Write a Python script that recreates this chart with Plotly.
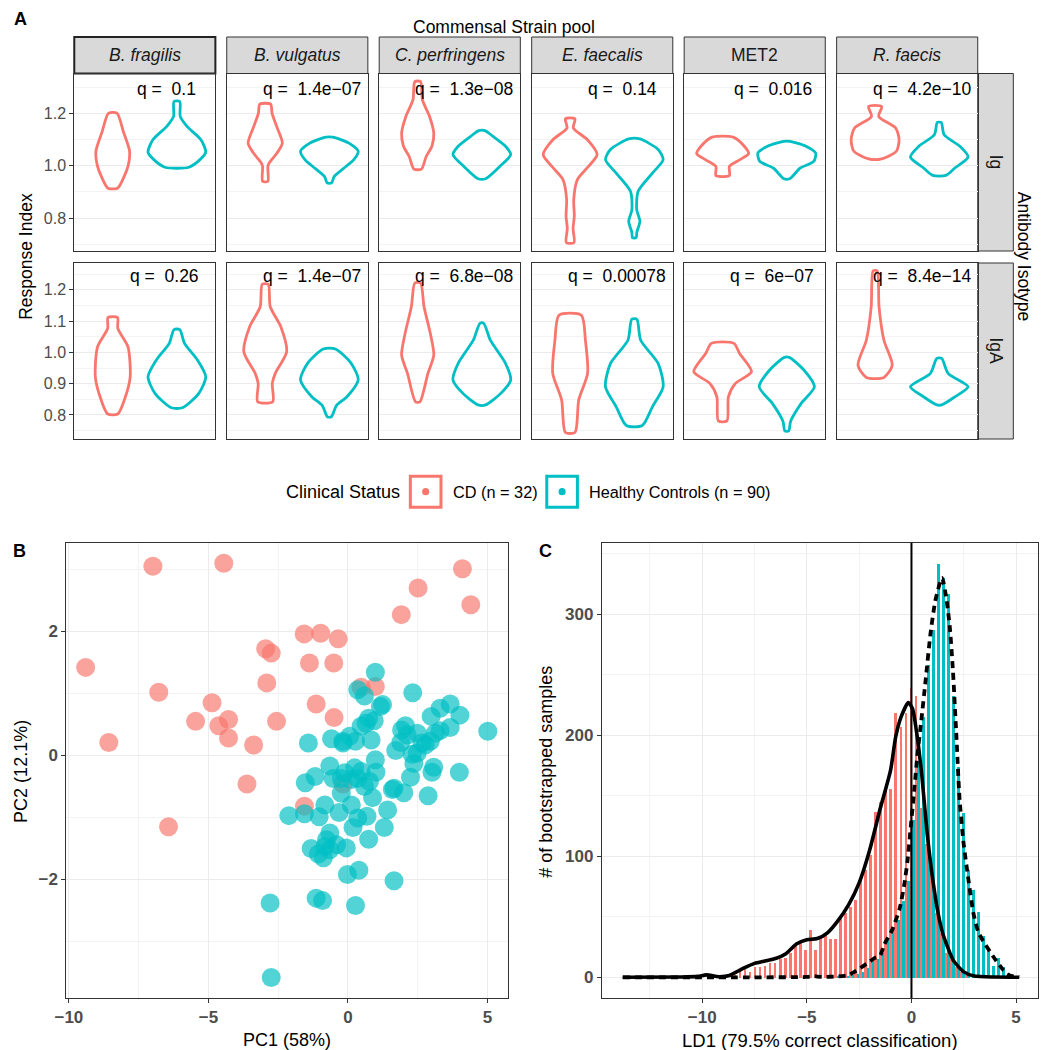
import plotly.graph_objects as go

W, H = 1041, 1050
CD_COLOR = "#F8766D"
HC_COLOR = "#00BFC4"
FONT = "Liberation Sans, Arial, Helvetica, sans-serif"

# ---------------- data ----------------
strains = ["B. fragilis", "B. vulgatus", "C. perfringens", "E. faecalis", "MET2", "R. faecis"]
strain_italic = [True, True, True, True, False, True]
isotypes = ["Ig", "IgA"]
group_labels = ["CD (n = 32)", "Healthy Controls (n = 90)"]

q_Ig = ["0.1", "1.4e\u221207", "1.3e\u221208", "0.14", "0.016", "4.2e\u221210"]
q_IgA = ["0.26", "1.4e\u221207", "6.8e\u221208", "0.00078", "6e\u221207", "8.4e\u221214"]

# violin profiles (Response Index levels, top to bottom, and relative density width)
vio_Ig_CD_y = [
    [1.200, 1.130, 1.055, 1.000, 0.960, 0.914],
    [1.235, 1.200, 1.150, 1.086, 1.048, 1.010, 0.997, 0.940],
    [1.321, 1.251, 1.188, 1.124, 1.074, 1.035, 0.987],
    [1.179, 1.144, 1.099, 1.042, 0.997, 0.947, 0.870, 0.807, 0.760, 0.706],
    [1.109, 1.074, 1.046, 1.023, 0.997, 0.962],
    [1.226, 1.188, 1.144, 1.099, 1.055, 1.026],
]
vio_Ig_CD_w = [
    [4.5, 11, 17.5, 16, 12, 5],
    [5.5, 7, 11.7, 17.5, 12, 4, 2.7, 2.7],
    [3, 5, 12.5, 17, 15, 9, 4],
    [5, 3.3, 18, 28, 19, 7.5, 3.7, 4.3, 3, 4],
    [11, 22.5, 27, 18, 7, 7],
    [6.7, 3.7, 21, 24.5, 21.7, 6.7],
]
vio_Ig_HC_y = [
    [1.245, 1.188, 1.150, 1.099, 1.051, 1.023, 0.994],
    [1.109, 1.086, 1.055, 1.023, 0.991, 0.959, 0.934],
    [1.134, 1.112, 1.074, 1.042, 0.997, 0.950],
    [1.102, 1.061, 1.023, 0.972, 0.902, 0.832, 0.788, 0.744, 0.725],
    [1.093, 1.074, 1.048, 1.016, 0.991, 0.950],
    [1.165, 1.118, 1.074, 1.033, 0.991, 0.963],
]
vio_Ig_HC_w = [
    [3, 3.5, 10.5, 25, 30, 24, 12.5],
    [3.3, 20, 29.5, 25, 15, 5, 2.3],
    [3.3, 11.7, 25, 30.5, 19, 4],
    [5.8, 25, 30, 19, 4, 2.5, 5.8, 2.5, 2],
    [3.3, 20, 30, 28, 14, 3],
    [2, 5, 21, 29.5, 16, 6.7],
]
vio_IgA_CD_y = [
    [1.112, 1.077, 1.018, 0.922, 0.858, 0.803],
    [1.218, 1.146, 1.082, 1.002, 0.933, 0.901, 0.842],
    [1.222, 1.146, 1.061, 0.991, 0.933, 0.842],
    [1.119, 1.039, 0.933, 0.848, 0.744],
    [1.029, 0.997, 0.938, 0.901, 0.858, 0.781],
    [1.261, 1.146, 1.039, 0.959, 0.920],
]
vio_IgA_CD_w = [
    [5, 5.3, 16, 18.3, 13.3, 5.3],
    [3, 5, 15.5, 21.3, 10, 7, 7.5],
    [3, 6.7, 13.3, 17, 10.8, 2.3],
    [11.7, 16, 18.3, 9, 5],
    [11.7, 17.5, 30, 13.3, 6, 4.5],
    [2, 4, 9, 17.5, 9],
]
vio_IgA_HC_y = [
    [1.073, 1.029, 0.975, 0.922, 0.869, 0.823],
    [1.011, 0.965, 0.912, 0.858, 0.830, 0.794],
    [1.093, 1.039, 0.965, 0.912, 0.869, 0.832],
    [1.106, 1.039, 0.965, 0.890, 0.826, 0.766],
    [0.984, 0.943, 0.890, 0.837, 0.780, 0.749],
    [0.981, 0.933, 0.890, 0.858, 0.832],
]
vio_IgA_HC_w = [
    [3, 8, 21.7, 30.3, 23, 5.8],
    [6, 21.7, 28.7, 17.5, 7, 2],
    [2, 9, 25, 30.5, 20, 4],
    [2.7, 6.7, 25, 30.3, 19, 8.3],
    [2.5, 18, 28.7, 15, 4, 2],
    [2.5, 9, 29.5, 16, 2.5],
]

# PCA scores
CD_pc1 = [-6.99, -4.45, 4.10, 2.51, 4.40, 1.91, -1.57, -0.98, -0.35, -2.95, -2.75, -1.38, -0.51, -9.40,
          -2.91, 0.47, 0.98, -6.78, -4.87, -1.14, -0.50, -5.46, -4.63, -4.28, -2.56, -4.28, -8.57, -3.38,
          -3.62, -0.18, -1.56, -6.43]
CD_pc2 = [3.05, 3.10, 3.01, 2.70, 2.43, 2.27, 1.96, 1.97, 1.88, 1.72, 1.65, 1.49, 1.49, 1.42,
          1.17, 1.10, 1.11, 1.02, 0.85, 0.83, 0.61, 0.55, 0.48, 0.58, 0.55, 0.28, 0.21, 0.17,
          -0.46, -0.46, -0.82, -1.15]
HC_pc1 = [0.98, 0.35, 0.59, 2.32, 1.24, 1.16, 3.66, 3.30, 4.01, 2.98,
          0.74, 0.94, 0.47, 0.65, 2.06, 1.92, 2.48, 3.66, 3.30, 3.13,
          5.01, -0.59, 0.06, 0.27, 0.83, -0.18, -1.42, 2.95, 2.65, 1.89,
          1.71, 2.48, 2.36, 0.98, -0.65, 0.24, 1.00, 0.47, -0.12, -1.18,
          -1.53, -0.53, 0.12, 3.07, 3.01, 3.99, 2.24, 0.77, 0.59, 0.88,
          1.65, 1.59, 2.00, 2.87, -0.24, -0.83, 0.12, -0.32, -2.12, -1.56,
          -1.03, 0.35, 0.68, 1.42, 0.18, 1.30, 0.74, -0.65, -0.77, -0.06,
          -0.41, -1.32, -1.06, -0.88, -0.65, -0.02, 0.39, 1.65, -1.14, -0.91,
          -2.79, 0.27, -2.75, -0.18, 2.12, 2.77, 2.30, -0.24, 0.35, -0.83]
HC_pc2 = [1.34, 1.06, 0.96, 1.01, 0.82, 0.79, 0.83, 0.76, 0.65, 0.63,
          0.60, 0.56, 0.47, 0.52, 0.48, 0.41, 0.36, 0.45, 0.40, 0.36,
          0.39, 0.27, 0.31, 0.23, 0.25, 0.20, 0.20, 0.23, 0.20, 0.21,
          0.08, 0.04, -0.13, -0.07, -0.17, -0.20, -0.27, -0.26, -0.28, -0.34,
          -0.44, -0.37, -0.39, -0.19, -0.27, -0.27, -0.35, -0.42, -0.50, -0.68,
          -0.53, -0.55, -0.60, -0.65, -0.61, -0.80, -0.80, -0.92, -0.97, -0.94,
          -0.99, -1.01, -0.98, -0.88, -1.16, -1.16, -1.35, -1.25, -1.36, -1.49,
          -1.44, -1.50, -1.59, -1.65, -1.52, -1.92, -1.85, -2.02, -2.30, -2.34,
          -2.38, -2.42, -3.58, 0.23, 0.33, 0.17, 0.02, -0.37, -0.37, -1.47]

# LDA bootstrap histogram (bin centres, counts per group)
bin_centers = [-8.38, -8.14, -7.90, -7.66, -7.42, -7.18, -6.94, -6.70, -6.46, -6.22,
               -5.98, -5.74, -5.50, -5.26, -5.02, -4.78, -4.54, -4.30, -4.06, -3.82,
               -3.58, -3.34, -3.10, -2.86, -2.62, -2.38, -2.14, -1.90, -1.66, -1.42,
               -1.18, -0.94, -0.70, -0.46, -0.22, 0.02, 0.26, 0.50, 0.74, 0.98,
               1.22, 1.46, 1.70, 1.94, 2.18, 2.42, 2.66, 2.90, 3.14, 3.38,
               3.62, 3.86, 4.10, 4.34, 4.58, 4.82]
CD_counts = [2, 6, 9, 5, 9, 9, 10, 12, 12, 15,
             16, 20, 28, 30, 23, 39, 23, 33, 36, 32,
             32, 49, 53, 58, 64, 81, 89, 101, 137, 145,
             155, 156, 219, 207, 219, 239, 233, 140, 110, 86,
             53, 37, 20, 15, 9, 5, 2, 0, 0, 0,
             0, 0, 0, 0, 0, 0]
HC_counts = [0, 0, 0, 0, 0, 0, 0, 0, 0, 0,
             0, 0, 0, 0, 0, 0, 0, 0, 0, 0,
             1, 0, 1, 2, 3, 5, 8, 14, 15, 20,
             32, 40, 48, 63, 80, 130, 178, 215, 258, 287,
             342, 330, 317, 233, 174, 136, 89, 72, 54, 34,
             23, 10, 16, 9, 4, 1]

# density curves (scaled to counts)
CD_dens_x = [-13.8, -11.0, -10.2, -9.8, -9.2, -8.7, -8.3, -8.0, -7.5, -7.0, -6.5, -6.0, -5.5, -5.0,
             -4.5, -4.0, -3.5, -3.0, -2.5, -2.0, -1.5, -1.0, -0.75, -0.5, -0.15, 0.05, 0.25, 0.5,
             0.75, 1.0, 1.25, 1.5, 2.0, 2.5, 3.0, 4.0, 5.15]
CD_dens_y = [0, 0.3, 0.8, 2, 0.5, 1.5, 5, 7.7, 11.5, 13.5, 15.5, 19.5, 27.5, 31,
             32, 37, 47, 60, 78, 105, 139, 171, 199, 215, 227, 222, 202, 166,
             119, 83, 55, 36, 14, 4.5, 1, 0.2, 0]
HC_dens_x = [-13.8, -8.0, -5.0, -4.7, -4.3, -3.5, -3.0, -2.5, -2.0, -1.75, -1.5, -1.3, -0.9, -0.55,
             -0.35, -0.19, -0.03, 0.15, 0.28, 0.47, 0.68, 0.91, 1.15, 1.46, 1.65, 1.83, 1.98, 2.14,
             2.30, 2.49, 2.72, 2.96, 3.2, 3.5, 3.89, 4.37, 4.69, 5.15]
HC_dens_y = [0, 0, 0.3, 1, 0.3, 0.8, 2, 7, 13, 16, 18, 27, 40, 58,
             76, 96, 125, 158, 183, 212, 246, 284, 312, 330, 315, 290, 254, 202,
             147, 111, 81, 53, 37, 28, 17.6, 6.4, 1.5, 0.3]

# ---------------- layout geometry (pixels) ----------------
def fx(px):
    return px / W


def fy(py):
    return 1 - py / H


A_LEFT = [63, 217.25, 371.5, 525.75, 680, 834.25]
A_W = 142.75
A_ROWS = [(73.5, 251), (263, 439)]
STRIP_TOP = 37
RSTRIP = (977, 1013)
B_BOX = (55, 501.7, 542.7, 998)
C_BOX = (596.7, 1038, 542.7, 998)

row_ranges = [[0.674, 1.352], [0.723, 1.286]]
row_ticks = [[0.8, 1.0, 1.2], [0.8, 0.9, 1.0, 1.1, 1.2]]
row_ticktext = [["0.8", "1.0", "1.2"], ["0.8", "0.9", "1.0", "1.1", "1.2"]]
row_minor = [[0.7, 0.9, 1.1, 1.3], [0.75, 0.85, 0.95, 1.05, 1.15, 1.25]]

GRID = "#EBEBEB"
MINOR = "#F3F3F3"
BORDER = "#333333"
TICKC = "#4D4D4D"

fig = go.Figure()
lay = {}
shapes = []
annotations = []

CHAR_EM = {"q": 0.556, " ": 0.278, "\u00a0": 0.278, "=": 0.584, ".": 0.278, "e": 0.556, "\u2212": 0.584}


def text_width(s, size):
    return sum(CHAR_EM.get(ch, 0.556) for ch in s) * size


def ax(n, kind):
    return f"{kind}axis" if n == 1 else f"{kind}axis{n}"


def ref(n, kind):
    return kind if n == 1 else f"{kind}{n}"


violin_sets = [
    (vio_Ig_CD_y, vio_Ig_CD_w, vio_Ig_HC_y, vio_Ig_HC_w),
    (vio_IgA_CD_y, vio_IgA_CD_w, vio_IgA_HC_y, vio_IgA_HC_w),
]
q_rows = [q_Ig, q_IgA]

Q_SIZE = 17.5
for r in range(2):
    top, bot = A_ROWS[r]
    cd_y, cd_w, hc_y, hc_w = violin_sets[r]
    for c in range(6):
        n = r * 6 + c + 1
        left = A_LEFT[c]
        lay[ax(n, "x")] = dict(
            domain=[fx(left), fx(left + A_W)], range=[0.4, 2.6], anchor=ref(n, "y"),
            showgrid=False, zeroline=False, showticklabels=False, ticks="",
            showline=True, mirror=True, linecolor=BORDER, linewidth=1, fixedrange=True,
        )
        lay[ax(n, "y")] = dict(
            domain=[fy(bot), fy(top)], range=row_ranges[r], anchor=ref(n, "x"),
            tickmode="array", tickvals=row_ticks[r], ticktext=row_ticktext[r],
            showticklabels=(c == 0), ticks="outside" if c == 0 else "", ticklen=4,
            tickcolor=BORDER, tickfont=dict(family=FONT, size=16, color=TICKC),
            showgrid=True, gridcolor=GRID, gridwidth=1,
            minor=dict(tickvals=row_minor[r], showgrid=True, gridcolor=MINOR, gridwidth=0.7),
            zeroline=False, showline=True, mirror=True, linecolor=BORDER, linewidth=1,
            fixedrange=True,
        )
        wmax = max(max(cd_w[c]), max(hc_w[c]))
        for center, ys, ws, col in [(1, cd_y[c], cd_w[c], CD_COLOR), (2, hc_y[c], hc_w[c], HC_COLOR)]:
            half = [0.45 * w / wmax for w in ws]
            xs = [center - half[0]] + [center + h for h in half] + [center - h for h in reversed(half)]
            yy = [ys[0]] + list(ys) + list(reversed(ys))
            fig.add_trace(go.Scatter(
                x=xs, y=yy, mode="lines", xaxis=ref(n, "x"), yaxis=ref(n, "y"),
                line=dict(color=col, width=2.8, shape="spline", smoothing=0.7),
                hoverinfo="skip", showlegend=False,
            ))
        # q-value label
        qtxt = "q =\u00a0 " + q_rows[r][c]
        wpx = text_width(qtxt, Q_SIZE)
        start = 100.8 - 0.674 * wpx
        annotations.append(dict(
            text=qtxt, xref=f"{ref(n, 'x')} domain", yref=f"{ref(n, 'y')} domain",
            x=start / A_W, y=1, xanchor="left", yanchor="top", yshift=-3 if r == 0 else -1,
            showarrow=False, font=dict(family=FONT, size=Q_SIZE, color="#000000"),
        ))

# top strips
for c in range(6):
    left = A_LEFT[c]
    thick = (c == 0)
    shapes.append(dict(
        type="rect", xref="paper", yref="paper",
        x0=fx(left), x1=fx(left + A_W), y0=fy(A_ROWS[0][0]), y1=fy(STRIP_TOP),
        fillcolor="#D9D9D9", line=dict(color="#222222" if thick else BORDER, width=2 if thick else 1),
        layer="below",
    ))
    label = f"<i>{strains[c]}</i>" if strain_italic[c] else strains[c]
    annotations.append(dict(
        text=label, xref="paper", yref="paper", x=fx(left + A_W / 2), y=fy((STRIP_TOP + A_ROWS[0][0]) / 2),
        xanchor="center", yanchor="middle", showarrow=False,
        font=dict(family=FONT, size=17.5, color="#1A1A1A"),
    ))

# right strips
for r in range(2):
    top, bot = A_ROWS[r]
    shapes.append(dict(
        type="rect", xref="paper", yref="paper",
        x0=fx(RSTRIP[0]), x1=fx(RSTRIP[1]), y0=fy(bot), y1=fy(top),
        fillcolor="#D9D9D9", line=dict(color=BORDER, width=1), layer="below",
    ))
    annotations.append(dict(
        text=isotypes[r], xref="paper", yref="paper", x=fx((RSTRIP[0] + RSTRIP[1]) / 2),
        y=fy((top + bot) / 2), xanchor="center", yanchor="middle", textangle=90, showarrow=False,
        font=dict(family=FONT, size=17.5, color="#1A1A1A"),
    ))

# facet titles and axis title of panel A
annotations += [
    dict(text="Commensal Strain pool", xref="paper", yref="paper", x=fx(498), y=fy(26.5),
         xanchor="center", yanchor="middle", showarrow=False, font=dict(family=FONT, size=17.5, color="#000")),
    dict(text="Antibody Isotype", xref="paper", yref="paper", x=fx(1024), y=fy(256),
         xanchor="center", yanchor="middle", textangle=90, showarrow=False,
         font=dict(family=FONT, size=17.5, color="#000")),
    dict(text="Response Index", xref="paper", yref="paper", x=fx(14), y=fy(256),
         xanchor="center", yanchor="middle", textangle=-90, showarrow=False,
         font=dict(family=FONT, size=17.5, color="#000")),
]

# ---------------- legend (ggplot style keys) ----------------
LEG_Y = 491.7
annotations.append(dict(text="Clinical Status", xref="paper", yref="paper", x=fx(275), y=fy(LEG_Y),
                        xanchor="left", yanchor="middle", showarrow=False,
                        font=dict(family=FONT, size=18, color="#000")))
for (kx0, kx1, tx, col, lab) in [(403, 434, 444, CD_COLOR, group_labels[0]),
                                  (541, 572, 582, HC_COLOR, group_labels[1])]:
    shapes.append(dict(type="rect", xref="paper", yref="paper", x0=fx(kx0), x1=fx(kx1),
                       y0=fy(LEG_Y + 15.5), y1=fy(LEG_Y - 15.5), fillcolor="white",
                       line=dict(color=col, width=3)))
    cx = (kx0 + kx1) / 2
    shapes.append(dict(type="circle", xref="paper", yref="paper", x0=fx(cx - 3.6), x1=fx(cx + 3.6),
                       y0=fy(LEG_Y + 3.6), y1=fy(LEG_Y - 3.6), fillcolor=col, line=dict(width=0)))
    annotations.append(dict(text=lab, xref="paper", yref="paper", x=fx(tx), y=fy(LEG_Y),
                            xanchor="left", yanchor="middle", showarrow=False,
                            font=dict(family=FONT, size=16.3, color="#000")))

# ---------------- panel B (PCA) ----------------
bold_tick = dict(family=FONT, size=17, color=TICKC, weight="bold")
lay["xaxis13"] = dict(
    domain=[fx(B_BOX[0]), fx(B_BOX[1])], range=[-10.09, 5.73], anchor="y13",
    tickmode="array", tickvals=[-10, -5, 0, 5], ticks="outside", ticklen=4, tickcolor=BORDER,
    tickfont=bold_tick, showgrid=True, gridcolor=GRID, gridwidth=1,
    minor=dict(tickvals=[-7.5, -2.5, 2.5], showgrid=True, gridcolor=MINOR, gridwidth=0.7),
    zeroline=False, showline=True, mirror=True, linecolor=BORDER, linewidth=1, fixedrange=True,
)
lay["yaxis13"] = dict(
    domain=[fy(B_BOX[3]), fy(B_BOX[2])], range=[-3.91, 3.43], anchor="x13",
    tickmode="array", tickvals=[-2, 0, 2], ticks="outside", ticklen=4, tickcolor=BORDER,
    tickfont=bold_tick, showgrid=True, gridcolor=GRID, gridwidth=1,
    minor=dict(tickvals=[-3, -1, 1, 3], showgrid=True, gridcolor=MINOR, gridwidth=0.7),
    zeroline=False, showline=True, mirror=True, linecolor=BORDER, linewidth=1, fixedrange=True,
)
fig.add_trace(go.Scatter(x=CD_pc1, y=CD_pc2, mode="markers", xaxis="x13", yaxis="y13",
                         marker=dict(size=19, color=CD_COLOR, opacity=0.68, line=dict(width=0)),
                         name=group_labels[0], hoverinfo="skip"))
fig.add_trace(go.Scatter(x=HC_pc1, y=HC_pc2, mode="markers", xaxis="x13", yaxis="y13",
                         marker=dict(size=19, color=HC_COLOR, opacity=0.68, line=dict(width=0)),
                         name=group_labels[1], hoverinfo="skip"))

# ---------------- panel C (LDA bootstrap) ----------------
lay["xaxis14"] = dict(
    domain=[fx(C_BOX[0]), fx(C_BOX[1])], range=[-14.8, 6.05], anchor="y14",
    tickmode="array", tickvals=[-10, -5, 0, 5], ticks="outside", ticklen=4, tickcolor=BORDER,
    tickfont=bold_tick, showgrid=True, gridcolor=GRID, gridwidth=1,
    minor=dict(tickvals=[-12.5, -7.5, -2.5, 2.5], showgrid=True, gridcolor=MINOR, gridwidth=0.7),
    zeroline=False, showline=True, mirror=True, linecolor=BORDER, linewidth=1, fixedrange=True,
)
lay["yaxis14"] = dict(
    domain=[fy(C_BOX[3]), fy(C_BOX[2])], range=[-17.1, 359.1], anchor="x14",
    tickmode="array", tickvals=[0, 100, 200, 300], ticks="outside", ticklen=4, tickcolor=BORDER,
    tickfont=bold_tick, showgrid=True, gridcolor=GRID, gridwidth=1,
    minor=dict(tickvals=[50, 150, 250, 350], showgrid=True, gridcolor=MINOR, gridwidth=0.7),
    zeroline=False, showline=True, mirror=True, linecolor=BORDER, linewidth=1, fixedrange=True,
)
fig.add_trace(go.Bar(x=bin_centers, y=CD_counts, xaxis="x14", yaxis="y14", marker=dict(color=CD_COLOR, line=dict(width=0)),
                     name=group_labels[0], hoverinfo="skip"))
fig.add_trace(go.Bar(x=bin_centers, y=HC_counts, xaxis="x14", yaxis="y14", marker=dict(color=HC_COLOR, line=dict(width=0)),
                     name=group_labels[1], hoverinfo="skip"))
shapes.append(dict(type="line", xref="x14", yref="y14 domain", x0=0, x1=0, y0=0, y1=1,
                   line=dict(color="black", width=2), layer="above"))
fig.add_trace(go.Scatter(x=CD_dens_x, y=CD_dens_y, mode="lines", xaxis="x14", yaxis="y14",
                         line=dict(color="black", width=3.6, shape="spline", smoothing=0.6),
                         hoverinfo="skip"))
fig.add_trace(go.Scatter(x=HC_dens_x, y=HC_dens_y, mode="lines", xaxis="x14", yaxis="y14",
                         line=dict(color="black", width=3.8, shape="spline", smoothing=0.6, dash="7px,5px"),
                         hoverinfo="skip"))

# axis titles and panel tags
annotations += [
    dict(text="PC1 (58%)", xref="paper", yref="paper", x=fx((B_BOX[0] + B_BOX[1]) / 2), y=fy(1040),
         xanchor="center", yanchor="middle", showarrow=False, font=dict(family=FONT, size=18, color="#000")),
    dict(text="PC2 (12.1%)", xref="paper", yref="paper", x=fx(9), y=fy(771),
         xanchor="center", yanchor="middle", textangle=-90, showarrow=False,
         font=dict(family=FONT, size=18, color="#000")),
    dict(text="LD1 (79.5% correct classification)", xref="paper", yref="paper",
         x=fx((C_BOX[0] + C_BOX[1]) / 2), y=fy(1040), xanchor="center", yanchor="middle", showarrow=False,
         font=dict(family=FONT, size=18.5, color="#000")),
    dict(text="# of bootstrapped samples", xref="paper", yref="paper", x=fx(540), y=fy(772),
         xanchor="center", yanchor="middle", textangle=-90, showarrow=False,
         font=dict(family=FONT, size=18, color="#000")),
    dict(text="<b>A</b>", xref="paper", yref="paper", x=fx(9), y=fy(19), xanchor="center", yanchor="middle",
         showarrow=False, font=dict(family=FONT, size=18, color="#000")),
    dict(text="<b>B</b>", xref="paper", yref="paper", x=fx(8), y=fy(551), xanchor="center", yanchor="middle",
         showarrow=False, font=dict(family=FONT, size=18, color="#000")),
    dict(text="<b>C</b>", xref="paper", yref="paper", x=fx(540), y=fy(551), xanchor="center", yanchor="middle",
         showarrow=False, font=dict(family=FONT, size=18, color="#000")),
]

fig.update_layout(
    width=W, height=H, margin=dict(l=0, r=0, t=0, b=0),
    paper_bgcolor="white", plot_bgcolor="white", showlegend=False,
    barmode="group", bargap=0, bargroupgap=0,
    font=dict(family=FONT, color="#000"),
    shapes=shapes, annotations=annotations, **lay,
)

# place the figure at the page origin (no default body margin), no mode bar
fig.write_html("out.html", config={"displayModeBar": False},
               post_script="document.body.style.margin='0';document.body.style.overflow='hidden';")
